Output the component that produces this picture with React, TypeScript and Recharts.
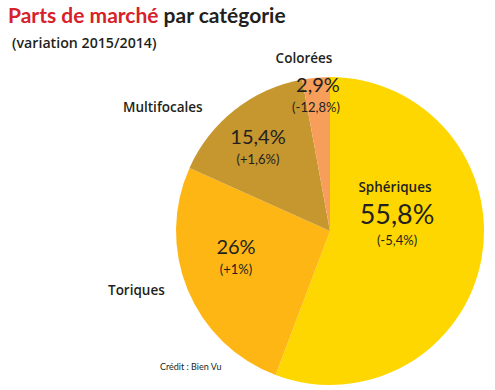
import { PieChart, Pie, Cell } from "recharts";

const categories = ["Sphériques", "Toriques", "Multifocales", "Colorées"];
const shares = [55.8, 26, 15.4, 2.9];
const shareLabels = ["55,8%", "26%", "15,4%", "2,9%"];
const changeLabels = ["(-5,4%)", "(+1%)", "(+1,6%)", "(-12,8%)"];
const colors = ["#FFD700", "#FDB614", "#C6962F", "#F79E5A"];

const data = categories.map((name, i) => ({ name, value: shares[i] }));

const FONT = "Lato, 'Open Sans', sans-serif";
const LABEL_FONT = "'Open Sans', Lato, sans-serif";
const INK = "#231F20";

export default function App() {
  return (
    <div style={{ position: "absolute", left: 0, top: 0, width: 495, height: 390, background: "#fff", fontFamily: FONT }}>
      <PieChart width={495} height={390}>
        <Pie
          data={data}
          dataKey="value"
          nameKey="name"
          cx={325}
          cy={226}
          outerRadius={154}
          startAngle={90}
          endAngle={-270}
          stroke="none"
          isAnimationActive={false}
        >
          {data.map((d, i) => (
            <Cell key={d.name} fill={colors[i]} />
          ))}
        </Pie>
      </PieChart>
      <svg width={495} height={390} style={{ position: "absolute", left: 0, top: 0, pointerEvents: "none" }} fontFamily={FONT}>
        <text x={8} y={23} fontSize={21} fontWeight={700}>
          <tspan fill="#D6222A">Parts de marché</tspan>
          <tspan fill={INK}> par catégorie</tspan>
        </text>
        <text x={12} y={48} fontSize={14.2} fontWeight={600} fill={INK} fontFamily={LABEL_FONT}>(variation 2015/2014)</text>

        <g fontFamily={LABEL_FONT} fontWeight={600} fontSize={13.5} fill={INK}>
          <text x={395} y={192} textAnchor="middle">{categories[0]}</text>
          <text x={108} y={295}>{categories[1]}</text>
          <text x={123} y={112}>{categories[2]}</text>
          <text x={304} y={63} textAnchor="middle">{categories[3]}</text>
        </g>

        <text x={397} y={224} fontSize={27} fill={INK} textAnchor="middle">{shareLabels[0]}</text>
        <text x={397} y={245} fontSize={13} fill={INK} textAnchor="middle">{changeLabels[0]}</text>

        <text x={236} y={254} fontSize={20} fill={INK} textAnchor="middle">{shareLabels[1]}</text>
        <text x={236} y={274} fontSize={13} fill={INK} textAnchor="middle">{changeLabels[1]}</text>

        <text x={258} y={144} fontSize={20} fill={INK} textAnchor="middle">{shareLabels[2]}</text>
        <text x={258} y={164} fontSize={13} fill={INK} textAnchor="middle">{changeLabels[2]}</text>

        <text x={318} y={92} fontSize={20} fill={INK} textAnchor="middle">{shareLabels[3]}</text>
        <text x={316} y={112} fontSize={13} fill={INK} textAnchor="middle">{changeLabels[3]}</text>

        <text x={160} y={370} fontSize={9} fill={INK}>Crédit : Bien Vu</text>
      </svg>
    </div>
  );
}
